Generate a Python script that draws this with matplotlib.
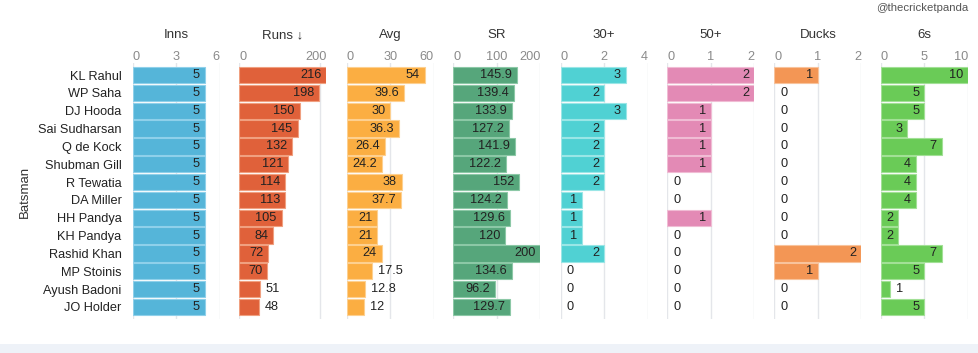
import matplotlib
matplotlib.use("Agg")
import matplotlib.pyplot as plt
import matplotlib.transforms as mtransforms
from matplotlib.patches import Rectangle

plt.rcParams["font.family"] = ["Liberation Sans", "DejaVu Sans"]

batsmen = ["KL Rahul", "WP Saha", "DJ Hooda", "Sai Sudharsan", "Q de Kock",
           "Shubman Gill", "R Tewatia", "DA Miller", "HH Pandya", "KH Pandya",
           "Rashid Khan", "MP Stoinis", "Ayush Badoni", "JO Holder"]
inns = [5, 5, 5, 5, 5, 5, 5, 5, 5, 5, 5, 5, 5, 5]
runs = [216, 198, 150, 145, 132, 121, 114, 113, 105, 84, 72, 70, 51, 48]
avg = [54, 39.6, 30, 36.3, 26.4, 24.2, 38, 37.7, 21, 21, 24, 17.5, 12.8, 12]
sr = [145.9, 139.4, 133.9, 127.2, 141.9, 122.2, 152, 124.2, 129.6, 120, 200,
      134.6, 96.2, 129.7]
thirties = [3, 2, 3, 2, 2, 2, 2, 1, 1, 1, 2, 0, 0, 0]
fifties = [2, 2, 1, 1, 1, 1, 0, 0, 1, 0, 0, 0, 0, 0]
ducks = [1, 0, 0, 0, 0, 0, 0, 0, 0, 0, 2, 1, 0, 0]
sixes = [10, 5, 5, 3, 7, 4, 4, 4, 2, 2, 7, 5, 1, 5]

titles = ["Inns", "Runs \u2193", "Avg", "SR", "30+", "50+", "Ducks", "6s"]
series = [inns, runs, avg, sr, thirties, fifties, ducks, sixes]
domains = [6, 216, 60, 200, 4, 2, 2, 10]
ticks = [[0, 3, 6], [0, 200], [0, 30, 60], [0, 100, 200], [0, 2, 4],
         [0, 1, 2], [0, 1, 2], [0, 5, 10]]
colors = ["#55b5d9", "#e0613a", "#fbae42", "#56a67b", "#50d1d3",
          "#e38ab5", "#f39655", "#6acb57"]
edges = ["#8fd0ea", "#f0a080", "#fdd090", "#8cc8a6", "#9ae6e6",
         "#f0bcd4", "#f8c39c", "#a2e096"]

W, H = 979, 353
fig = plt.figure(figsize=(W / 100, H / 100), dpi=100)
fig.patch.set_facecolor("white")

# light strip along the bottom
fig.patches.append(Rectangle((0, 0), 1, 9 / H, transform=fig.transFigure,
                             facecolor="#eef2f8", edgecolor="none"))

panel_left = [132.5, 239.3, 346.7, 453.3, 560.7, 667.5, 774.5, 881.0]
panel_w = 87.0
top_px, bot_px = 63.0, 319.0
n = len(batsmen)
pad = 0.18

renderer = fig.canvas.get_renderer()
axes = []
for i, (title, vals, dmax, tk, col, ec) in enumerate(
        zip(titles, series, domains, ticks, colors, edges)):
    ax = fig.add_axes([panel_left[i] / W, 1 - bot_px / H, panel_w / W,
                       (bot_px - top_px) / H])
    axes.append(ax)
    ax.set_xlim(0, dmax)
    ax.set_ylim(n - 0.5 + pad, -0.5 - pad)
    for s in ax.spines.values():
        s.set_visible(False)
    ax.set_xticks([])
    ax.tick_params(axis="y", length=0)
    for t in tk:
        ax.axvline(t, color="#e4e6ea", lw=1, zorder=0)
    edge_list = [ec if v > 0 else "none" for v in vals]
    ax.barh(range(n), vals, height=0.91, color=col, edgecolor=edge_list,
            linewidth=0.8, zorder=2)

    if i == 0:
        ax.set_yticks(range(n))
        ax.set_yticklabels(batsmen, fontsize=9.2, color="#222222")
        ax.tick_params(axis="y", pad=8)
    else:
        ax.set_yticks([])

    ax_bb = ax.get_window_extent(renderer)

    # column title
    ax.text(0.5, 1, title, transform=mtransforms.offset_copy(
        ax.transAxes, fig=fig, y=28, units="dots"),
        ha="center", va="center", fontsize=9.5, color="#333333")

    # tick labels kept inside the panel range
    tr = mtransforms.blended_transform_factory(ax.transData, ax.transAxes)
    for t in tk:
        lbl = ax.text(t, 1, str(t), transform=mtransforms.offset_copy(
            tr, fig=fig, y=6, units="dots"), ha="center", va="center",
            fontsize=9.2, color="#8a8a8a")
        bb = lbl.get_window_extent(renderer)
        shift = 0
        if bb.x0 < ax_bb.x0:
            shift = ax_bb.x0 - bb.x0
        elif bb.x1 > ax_bb.x1:
            shift = ax_bb.x1 - bb.x1
        if shift:
            lbl.set_transform(mtransforms.offset_copy(
                tr, fig=fig, x=shift, y=6, units="dots"))

    # value labels: inside the bar end if they fit, otherwise just outside
    px_per_unit = ax_bb.width / dmax
    for j, v in enumerate(vals):
        txt = f"{v:g}"
        lbl = ax.text(v, j, txt, ha="right", va="center", fontsize=9.2,
                      color="#222222", zorder=3,
                      transform=mtransforms.offset_copy(
                          ax.transData, fig=fig, x=-5, units="dots"))
        tw = lbl.get_window_extent(renderer).width
        if tw + 10 > v * px_per_unit:
            lbl.set_ha("left")
            lbl.set_transform(mtransforms.offset_copy(
                ax.transData, fig=fig, x=6, units="dots"))

fig.text(25 / W, 1 - 192 / H, "Batsman", rotation=90, ha="center",
         va="center", fontsize=9.5, color="#333333")
fig.text(968 / W, 1 - 8 / H, "@thecricketpanda", ha="right", va="center",
         fontsize=8.2, color="#555555")

fig.savefig("out.png", dpi=100)
